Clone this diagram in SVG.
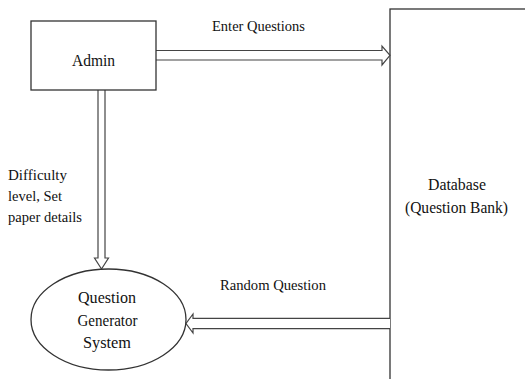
<svg xmlns="http://www.w3.org/2000/svg" width="525" height="379" viewBox="0 0 525 379">
<style>
.shape{fill:#fff;stroke:#333;stroke-width:1.3}
.arrow{fill:#fff;stroke:#444;stroke-width:1.2;stroke-linejoin:miter}
.node{font-size:16px;text-anchor:middle;fill:#111}
.lbl{font-size:14.5px;fill:#111}
</style>
<rect width="525" height="379" fill="#fff"/>
<g font-family="'Liberation Serif', 'DejaVu Serif', serif">
<g id="database">
<rect class="shape" x="390" y="9" width="150" height="380"/>
<text class="node" x="457" y="190" textLength="58" lengthAdjust="spacingAndGlyphs">Database</text>
<text class="node" x="456.5" y="213" textLength="103" lengthAdjust="spacingAndGlyphs">(Question Bank)</text>
</g>
<g id="connectors">
<path class="arrow" d="M156,50.5 H382 V46 L390,55.3 L382,65 V60 H156"/>
<path class="arrow" d="M98,90 V258 H94.5 L101.5,269 L108.5,258 H105 V90"/>
<path class="arrow" d="M390,318.3 H193 V314 L186,323.5 L193,333 V328.7 H390"/>
<text class="lbl" x="212" y="31" textLength="93" lengthAdjust="spacingAndGlyphs">Enter Questions</text>
<text class="lbl" x="8" y="180" textLength="59" lengthAdjust="spacingAndGlyphs">Difficulty</text>
<text class="lbl" x="8" y="201" textLength="54" lengthAdjust="spacingAndGlyphs">level, Set</text>
<text class="lbl" x="8" y="222" textLength="74" lengthAdjust="spacingAndGlyphs">paper details</text>
<text class="lbl" x="220" y="290" textLength="106" lengthAdjust="spacingAndGlyphs">Random Question</text>
</g>
<g id="admin">
<rect class="shape" x="31" y="21" width="125" height="69"/>
<text class="node" x="93.5" y="66" textLength="43" lengthAdjust="spacingAndGlyphs">Admin</text>
</g>
<g id="generator">
<ellipse class="shape" cx="108.5" cy="319.5" rx="77.5" ry="50.5"/>
<text class="node" x="107" y="303" textLength="58" lengthAdjust="spacingAndGlyphs">Question</text>
<text class="node" x="107.5" y="325.5" textLength="60" lengthAdjust="spacingAndGlyphs">Generator</text>
<text class="node" x="107" y="348" textLength="48" lengthAdjust="spacingAndGlyphs">System</text>
</g>
</g>
</svg>
